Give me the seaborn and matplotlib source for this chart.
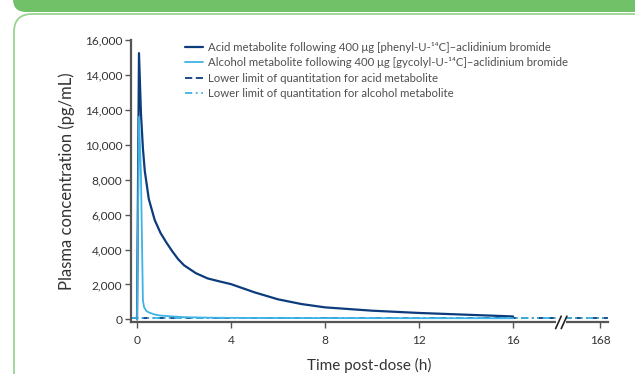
import numpy as np
import pandas as pd
import matplotlib
matplotlib.use("Agg")
import matplotlib.pyplot as plt
from matplotlib.patches import FancyBboxPatch, Rectangle
from matplotlib.lines import Line2D
import seaborn as sns

# ---------------- data ----------------
acid_time = [0, 0.083, 0.167, 0.25, 0.33, 0.5, 0.75, 1, 1.25, 1.5, 1.75, 2, 2.5, 3, 3.5, 4,
             5, 6, 7, 8, 10, 12, 14, 16]
acid_conc = [0, 15250, 11800, 9800, 8500, 6900, 5700, 4950, 4400, 3900, 3450, 3100, 2650, 2350, 2180, 2020,
             1550, 1150, 880, 690, 500, 370, 270, 170]

alcohol_time = [0, 0.083, 0.167, 0.25, 0.3, 0.4, 0.5, 0.75, 1, 1.5, 2, 3, 4, 6, 8, 12, 16]
alcohol_conc = [0, 11600, 8300, 1100, 700, 480, 400, 280, 220, 170, 130, 100, 90, 80, 75, 70, 65]

lloq_acid = 55
lloq_alcohol = 60

xtick_hours = [0, 4, 8, 12, 16, 168]
ytick_values = [0, 2000, 4000, 6000, 8000, 10000, 12000, 14000, 16000]
ytick_labels = ["0", "2,000", "4,000", "6,000", "8,000", "10,000", "14,000", "14,000", "16,000"]

legend_labels = [
    "Acid metabolite following 400 μg [phenyl-U-¹⁴C]–aclidinium bromide",
    "Alcohol metabolite following 400 μg [gycolyl-U-¹⁴C]–aclidinium bromide",
    "Lower limit of quantitation for acid metabolite",
    "Lower limit of quantitation for alcohol metabolite",
]

# broken axis: hours > 16 are placed after the break
BREAK_POS = 18.05
LATE_POS = 19.7


def hour_pos(h):
    return h if h <= 16 else LATE_POS


DARK = "#0c3c7c"
LIGHT = "#3db3e6"
GREEN = "#70c168"
CARD = "#9ad394"
AXC = "#555555"
TXT = "#333333"

sns.set_style("ticks")
plt.rcParams["font.family"] = ["Lato", "DejaVu Sans"]

fig = plt.figure(figsize=(6.35, 3.74), dpi=100)

# background decoration in pixel coordinates
bg = fig.add_axes([0, 0, 1, 1], zorder=-5)
bg.set_xlim(0, 635)
bg.set_ylim(374, 0)
bg.axis("off")
bg.add_patch(FancyBboxPatch((13, -40), 700, 52, boxstyle="round,pad=0,rounding_size=13",
                            facecolor=GREEN, edgecolor="none"))
bg.add_patch(FancyBboxPatch((14, 14), 700, 420, boxstyle="round,pad=0,rounding_size=18",
                            facecolor="white", edgecolor=CARD, linewidth=1.3))

ax = fig.add_axes([0.2058, 0.138, 0.7517, 0.755])
ax.patch.set_alpha(0)

acid_df = pd.DataFrame({"pos": [hour_pos(t) for t in acid_time], "conc": acid_conc})
alc_df = pd.DataFrame({"pos": [hour_pos(t) for t in alcohol_time], "conc": alcohol_conc})

ax.axhline(lloq_acid, color=DARK, lw=1.3, dashes=(4, 2, 4, 2, 1, 2), zorder=2)
ax.axhline(lloq_alcohol, color=LIGHT, lw=1.3, dashes=(4, 2, 1, 2, 1, 2), zorder=2.1)
sns.lineplot(data=acid_df, x="pos", y="conc", ax=ax, color=DARK, lw=1.6, zorder=3, estimator=None)
sns.lineplot(data=alc_df, x="pos", y="conc", ax=ax, color=LIGHT, lw=1.3, zorder=3.2, estimator=None)

ax.set_xlim(-0.27, 20.04)
ax.set_ylim(-170, 16000)

ax.set_xticks([hour_pos(h) for h in xtick_hours])
ax.set_xticklabels([str(h) for h in xtick_hours])
ax.set_yticks(ytick_values)
ax.set_yticklabels(ytick_labels)

for s in ["top", "right"]:
    ax.spines[s].set_visible(False)
for s in ["left", "bottom"]:
    ax.spines[s].set_color(AXC)
    ax.spines[s].set_linewidth(1.6)
ax.spines["left"].set_bounds(-170, 16000)
ax.tick_params(axis="both", colors=AXC, labelcolor=TXT, labelsize=8.6, length=4, width=1, direction="out")
ax.tick_params(axis="y", pad=2)
ax.tick_params(axis="x", pad=5)

ax.set_xlabel("Time post-dose (h)", fontsize=11, color=TXT, labelpad=9)
ax.set_ylabel("Plasma concentration (pg/mL)", fontsize=12, color=TXT, labelpad=7)

# axis break
trans = ax.get_xaxis_transform()
ax.add_patch(Rectangle((BREAK_POS - 0.22, -0.03), 0.44, 0.05, transform=trans,
                       facecolor="white", edgecolor="none", zorder=5, clip_on=False))
for dx in (-0.12, 0.12):
    ax.add_line(Line2D([BREAK_POS + dx - 0.12, BREAK_POS + dx + 0.12], [-0.022, 0.022],
                       transform=trans, color="#222222", lw=1.2, zorder=6, clip_on=False))

handles = [
    Line2D([], [], color=DARK, lw=1.6),
    Line2D([], [], color=LIGHT, lw=1.3),
    Line2D([], [], color=DARK, lw=1.3, dashes=(4, 2, 4, 2, 1, 2)),
    Line2D([], [], color=LIGHT, lw=1.3, dashes=(4, 2, 1, 2, 1, 2)),
]
leg = fig.legend(handles, legend_labels, loc="upper left", bbox_to_anchor=(185 / 635, 1 - 42 / 374),
                 frameon=False, fontsize=8.2, handlelength=1.6, handletextpad=0.4,
                 labelspacing=0.38, borderpad=0, borderaxespad=0)
for t in leg.get_texts():
    t.set_color("#505050")

fig.savefig("out.png", dpi=100)
